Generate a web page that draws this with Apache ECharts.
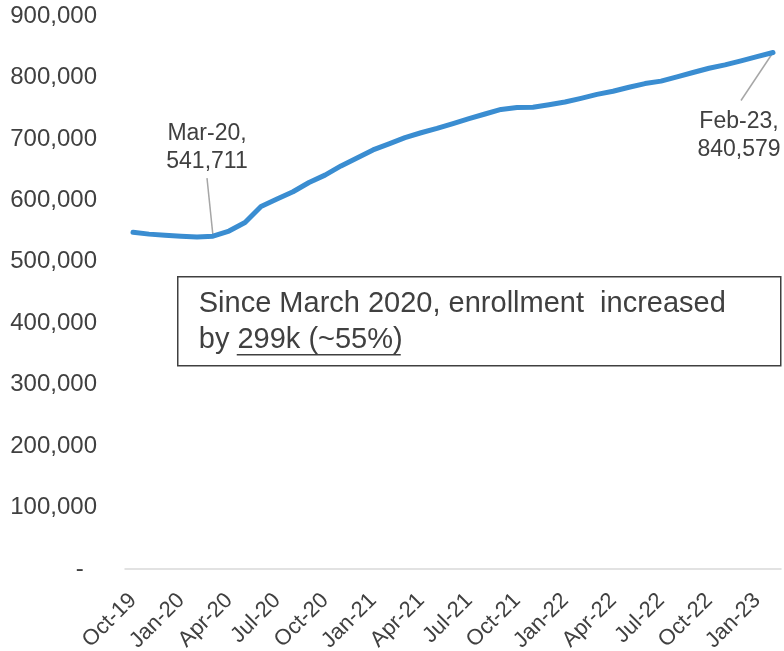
<!DOCTYPE html>
<html>
<head>
<meta charset="utf-8">
<script src="https://cdn.jsdelivr.net/npm/echarts@6/dist/echarts.min.js"></script>
<style>
  html, body { margin: 0; padding: 0; background: #fff; }
  #chart { width: 784px; height: 651px; }
</style>
</head>
<body>
<div id="chart"></div>
<script>
// monthly enrollment, Oct-19 .. Feb-23
const months = [
  'Oct-19', 'Nov-19', 'Dec-19', 'Jan-20', 'Feb-20', 'Mar-20', 'Apr-20', 'May-20', 'Jun-20',
  'Jul-20', 'Aug-20', 'Sep-20', 'Oct-20', 'Nov-20', 'Dec-20', 'Jan-21', 'Feb-21', 'Mar-21',
  'Apr-21', 'May-21', 'Jun-21', 'Jul-21', 'Aug-21', 'Sep-21', 'Oct-21', 'Nov-21', 'Dec-21',
  'Jan-22', 'Feb-22', 'Mar-22', 'Apr-22', 'May-22', 'Jun-22', 'Jul-22', 'Aug-22', 'Sep-22',
  'Oct-22', 'Nov-22', 'Dec-22', 'Jan-23', 'Feb-23'
];
const enrollment = [
  548000, 545000, 543000, 541500, 540500, 541711, 550000, 564000, 590000,
  602000, 614000, 629000, 641000, 656000, 669000, 682000, 692000, 702000,
  710000, 717000, 725000, 733000, 740500, 748000, 751000, 751500, 755500,
  760000, 766000, 772500, 777500, 784000, 790000, 794000, 801000, 808000,
  815000, 820500, 827000, 834000, 840579
];
const yTicks = [0, 100000, 200000, 300000, 400000, 500000, 600000, 700000, 800000, 900000];
const calloutIdx = [5, 40];

const font = "'Liberation Sans', Arial, sans-serif";
const txt = '#404040';

// label offsets from the data point, and where the leader line stops
const calloutShift = {5: {dx: -6, dy: -55, lx: -6, ly: -58}, 40: {dx: -34, dy: 50, lx: -32, ly: 48}};

const chart = echarts.init(document.getElementById('chart'));

const seriesData = enrollment.map((v, i) => {
  if (calloutIdx.indexOf(i) < 0) return v;
  return {
    value: v,
    label: {
      show: true,
      position: i === 5 ? 'top' : 'bottom',
      formatter: p => p.name + ',\n' + p.value.toLocaleString('en-US')
    }
  };
});

chart.setOption({
  animation: false,
  grid: {left: 125, right: 3, top: 16, bottom: 82, outerBoundsMode: 'none'},
  xAxis: {
    type: 'category',
    data: months,
    boundaryGap: true,
    axisLine: {lineStyle: {color: '#d9d9d9', width: 1.5}},
    axisTick: {interval: 2, length: 6, lineStyle: {color: '#d9d9d9', width: 1.5}},
    axisLabel: {
      interval: 2, rotate: 45, margin: 28,
      color: txt, fontSize: 22, fontFamily: font
    },
    splitLine: {show: false}
  },
  yAxis: {
    type: 'value',
    min: yTicks[0],
    max: yTicks[yTicks.length - 1],
    interval: yTicks[1] - yTicks[0],
    axisLine: {show: false},
    axisTick: {show: false},
    splitLine: {show: false},
    axisLabel: {
      margin: 28, color: txt, fontSize: 24, fontFamily: font,
      formatter: v => v === 0 ? '-  ' : v.toLocaleString('en-US')
    }
  },
  series: [{
    type: 'line',
    data: seriesData,
    symbol: 'circle',
    symbolSize: 0,
    showAllSymbol: true,
    lineStyle: {color: '#3a8dd1', width: 5, cap: 'round', join: 'round'},
    itemStyle: {color: '#3a8dd1'},
    label: {color: txt, fontSize: 23, fontFamily: font, lineHeight: 28},
    labelLayout: p => ({dx: calloutShift[p.dataIndex].dx, dy: calloutShift[p.dataIndex].dy}),
    emphasis: {disabled: true},
    z: 3
  }]
});

// leader lines from each callout point, plus the note box
const leaders = calloutIdx.map(i => {
  const p = chart.convertToPixel({gridIndex: 0}, [i, enrollment[i]]);
  const s = calloutShift[i];
  return {
    type: 'line', z: 2,
    shape: {x1: p[0] + s.lx, y1: p[1] + s.ly, x2: p[0], y2: p[1]},
    style: {stroke: '#a6a6a6', lineWidth: 1.5}
  };
});

chart.setOption({
  graphic: leaders.concat([{
    type: 'group',
    left: 177, top: 276,
    children: [
      {type: 'rect', shape: {x: 0, y: 0, width: 603, height: 89},
       style: {fill: '#fff', stroke: '#404040', lineWidth: 1.5}},
      {type: 'text', x: 21, y: 27,
       style: {text: 'Since March 2020, enrollment  increased', fill: txt,
               font: '29px ' + font, textVerticalAlign: 'middle'}},
      {type: 'text', x: 21, y: 63,
       style: {text: 'by 299k (~55%)', fill: txt,
               font: '29px ' + font, textVerticalAlign: 'middle'}},
      {type: 'line', shape: {x1: 59, y1: 78, x2: 223, y2: 78},
       style: {stroke: txt, lineWidth: 1.5}}
    ]
  }])
});
</script>
</body>
</html>
